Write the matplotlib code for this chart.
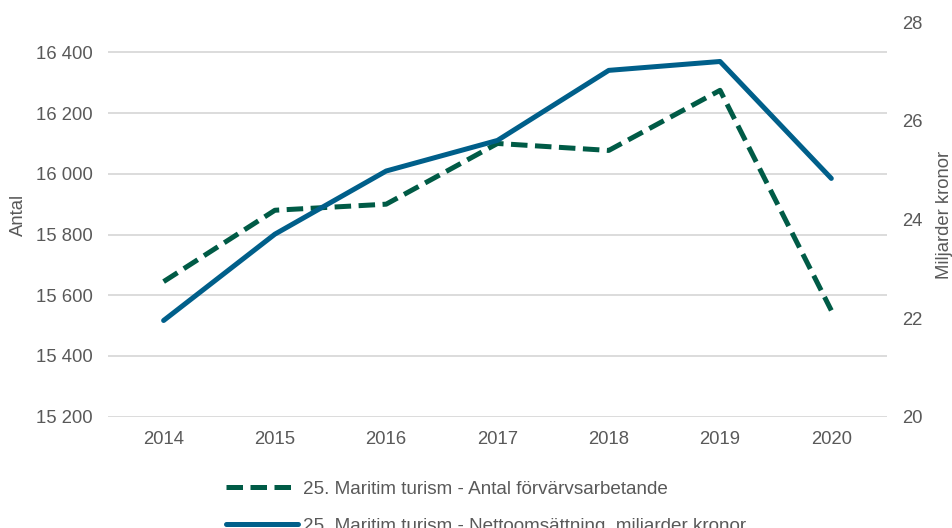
import numpy as np
import matplotlib.pyplot as plt
from matplotlib.ticker import FuncFormatter

plt.rcParams['font.family'] = ['Liberation Sans', 'DejaVu Sans']

years = ['2014', '2015', '2016', '2017', '2018', '2019', '2020']
antal = [15645, 15880, 15900, 16100, 16077, 16275, 15550]
omsattning = [21.95, 23.70, 24.98, 25.60, 27.02, 27.20, 24.83]

green = '#005b46'
blue = '#005f8a'
grey = '#595959'

fig = plt.figure(figsize=(9.53, 5.28), dpi=100)
ax = fig.add_axes([0.1133, 0.2108, 0.8174, 0.7475])
ax2 = ax.twinx()

x = np.arange(len(years))
l1, = ax.plot(x, antal, color=green, lw=3.6, dashes=(3.3, 1.5),
              dash_capstyle='butt', solid_capstyle='round',
              label='25. Maritim turism - Antal förvärvsarbetande', zorder=3)
l2, = ax2.plot(x, omsattning, color=blue, lw=3.6, solid_capstyle='round',
               label='25. Maritim turism - Nettoomsättning, miljarder kronor', zorder=3)

ax.set_xlim(-0.5, 6.5)
ax.set_ylim(15200, 16500)
ax.set_yticks(np.arange(15200, 16401, 200))
ax.yaxis.set_major_formatter(FuncFormatter(lambda v, p: f'{int(v):,}'.replace(',', ' ')))
ax2.set_ylim(20, 28)
ax2.set_yticks([20, 22, 24, 26, 28])

ax.set_xticks(x)
ax.set_xticklabels(years)
ax.grid(axis='y', color='#d9d9d9', lw=1.3)
ax.set_axisbelow(True)

for a in (ax, ax2):
    for s in a.spines.values():
        s.set_visible(False)
    a.tick_params(length=0, labelsize=13.3, labelcolor=grey)
ax.tick_params(axis='y', pad=11)
ax.tick_params(axis='x', pad=10)
ax2.tick_params(axis='y', pad=11)

fig.text(0.019, 0.593, 'Antal', rotation=90, ha='center', va='center',
         fontsize=13.3, color=grey)
fig.text(0.991, 0.593, 'Miljarder kronor', rotation=90, ha='center', va='center',
         fontsize=13.3, color=grey)

fig.legend(handles=[l1, l2], loc='upper left', bbox_to_anchor=(0.229, 0.104),
           frameon=False, fontsize=13.6, labelcolor=grey, handlelength=3.8,
           handletextpad=0.3, labelspacing=1.05, borderaxespad=0)

fig.savefig('out.png', dpi=100)
